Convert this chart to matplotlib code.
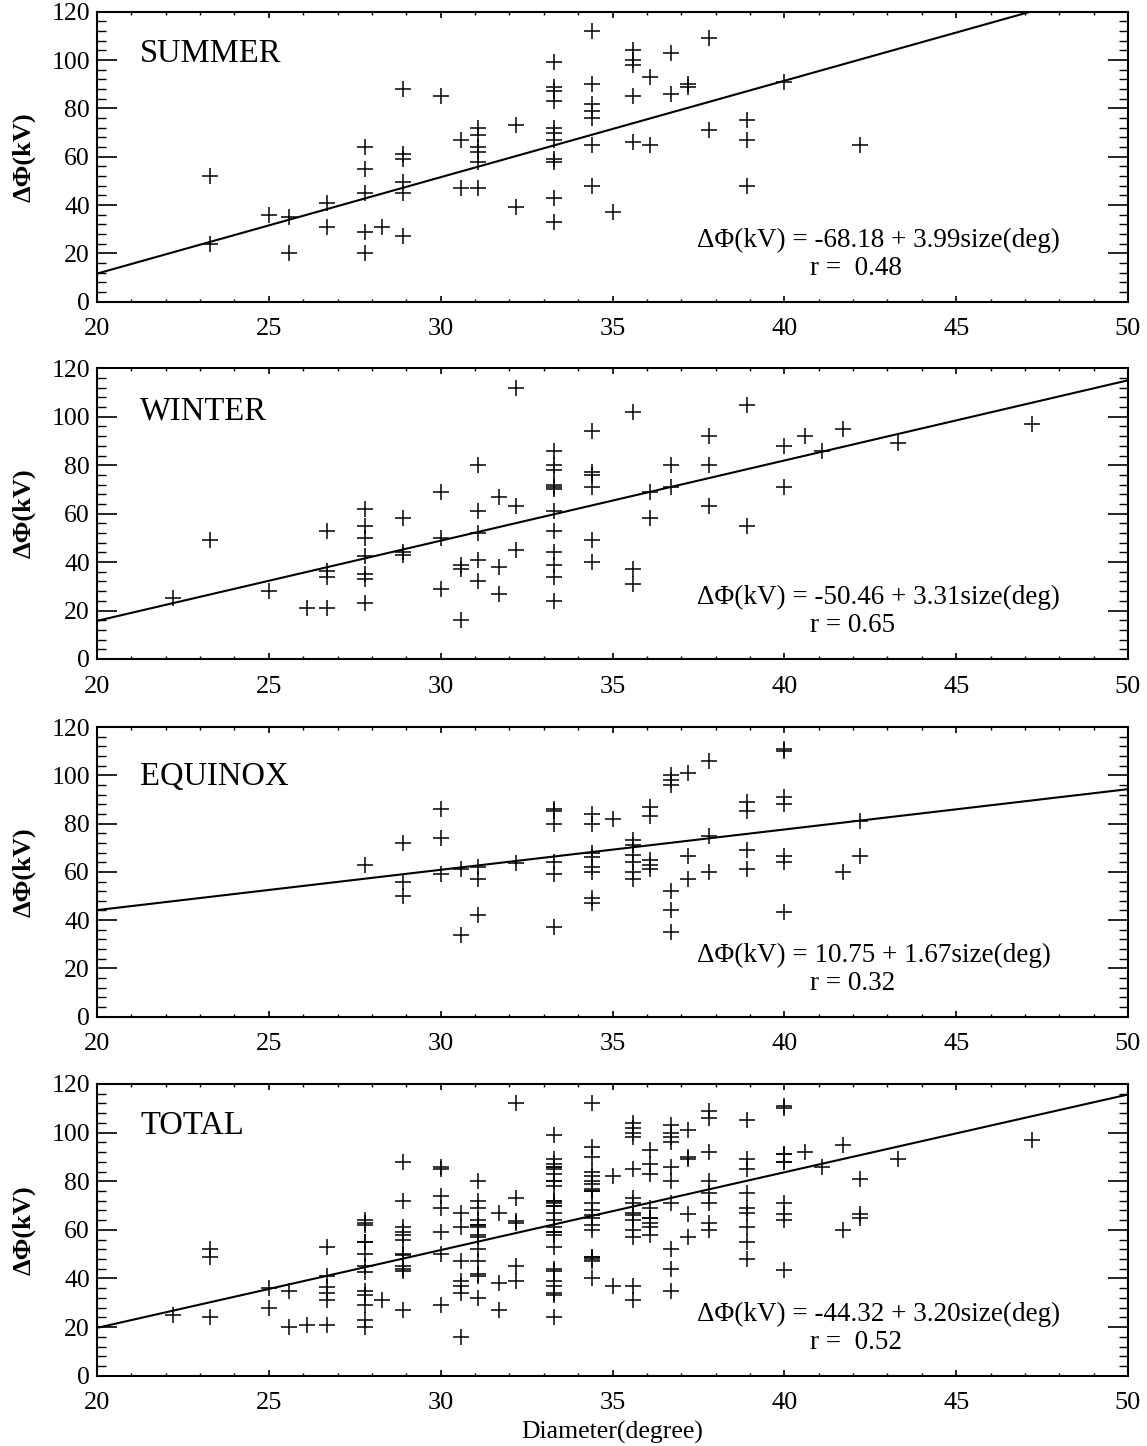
import matplotlib
matplotlib.use('Agg')
import matplotlib.pyplot as plt
from matplotlib.ticker import MultipleLocator
import numpy as np

plt.rcParams['font.family'] = ['Liberation Serif', 'DejaVu Serif']

# ---------------- data ----------------
# Each season: list of distinct diameter columns and the potentials (kV) at each column
summer_size = [23.3, 25.0, 25.6, 26.7, 27.8, 28.3, 28.9, 30.0, 30.6, 31.1, 32.2,
               33.3, 34.4, 35.0, 35.6, 36.1, 36.7, 37.2, 37.8, 38.9, 40.0, 42.2]
summer_dphi = [[52, 24], [36], [35, 20], [41, 31], [64, 55, 45, 29, 20], [31],
               [88, 61, 59, 49.5, 45, 27], [85], [67, 47], [72, 69, 64, 62, 58, 47],
               [73, 39], [99, 89, 87, 83, 72, 70, 67, 59, 58, 43, 33],
               [112, 90, 82, 79, 76, 65, 48], [37], [104, 100, 98, 85, 66], [93, 65],
               [103, 86], [90, 89], [109, 71], [75, 67, 48], [91], [65]]

winter_size = [22.2, 23.3, 25.0, 26.1, 26.7, 27.8, 28.9, 30.0, 30.6, 31.1, 31.7,
               32.2, 33.3, 34.4, 35.6, 36.1, 36.7, 37.8, 38.9, 40.0, 40.6, 41.1,
               41.7, 43.3, 47.2]
winter_dphi = [[25], [49], [28], [21], [53, 36.5, 34, 21], [62, 55, 50, 42.5, 35, 33, 23],
               [58, 44, 43], [69, 50, 29], [39, 37, 16], [80, 61, 52, 41, 32],
               [67, 38, 27], [112, 63, 45],
               [86, 80, 78, 72, 71, 70, 61, 53, 44, 39, 34, 24],
               [94, 77, 76, 71, 49, 40], [102, 37, 31], [69, 58], [80, 71],
               [92, 80, 63], [105, 55], [88, 71], [92], [86], [95], [89], [97]]

equinox_size = [27.8, 28.9, 30.0, 30.6, 31.1, 32.2, 33.3, 34.4, 35.0, 35.6, 36.1,
                36.7, 37.2, 37.8, 38.9, 40.0, 41.7, 42.2]
equinox_dphi = [[63], [72, 56, 50], [86, 74, 59], [61, 34], [62, 57, 42], [63.5],
                [86, 85, 80, 64, 59, 37], [84, 80, 68, 66, 62, 60, 49, 47], [82],
                [73, 71, 67, 64, 60, 57], [87, 83, 65, 63, 61],
                [100, 98, 96, 52, 44, 35], [101, 66.5, 57], [106, 75, 60],
                [89, 85, 69, 61], [111, 110, 91, 88, 66.5, 64, 43.5], [60], [81, 66.5]]

panel_titles = ['SUMMER', 'WINTER', 'EQUINOX', 'TOTAL']
fit_intercept = [-68.18, -50.46, 10.75, -44.32]
fit_slope = [3.99, 3.31, 1.67, 3.20]
fit_r_text = ['r =  0.48', 'r = 0.65', 'r = 0.32', 'r =  0.52']
eq_text = ['ΔΦ(kV) = -68.18 + 3.99size(deg)',
           'ΔΦ(kV) = -50.46 + 3.31size(deg)',
           'ΔΦ(kV) = 10.75 + 1.67size(deg)',
           'ΔΦ(kV) = -44.32 + 3.20size(deg)']
x_ticks = [20, 25, 30, 35, 40, 45, 50]
y_ticks = [0, 20, 40, 60, 80, 100, 120]


def expand(sizes, vals):
    xs, ys = [], []
    for s, v in zip(sizes, vals):
        for y in v:
            xs.append(s)
            ys.append(y)
    return np.array(xs), np.array(ys)


sx, sy = expand(summer_size, summer_dphi)
wx, wy = expand(winter_size, winter_dphi)
ex, ey = expand(equinox_size, equinox_dphi)
tx = np.concatenate([sx, wx, ex])
ty = np.concatenate([sy, wy, ey])
series = [(sx, sy), (wx, wy), (ex, ey), (tx, ty)]

# ---------------- figure ----------------
W, H = 1147, 1446
fig = plt.figure(figsize=(W / 100, H / 100), dpi=100)

left_px, right_px = 97, 1128
tops = [11.7, 368.3, 727, 1084]
bots = [301.7, 659, 1016.7, 1375.7]
title_y = [99, 99, 96, 99.5]

for i in range(4):
    ax = fig.add_axes([left_px / W, 1 - bots[i] / H,
                       (right_px - left_px) / W, (bots[i] - tops[i]) / H])
    x, y = series[i]
    ax.plot(x, y, linestyle='none', marker='+', markersize=11.5,
            markeredgewidth=1.1, color='black')
    xl = np.array([20, 50])
    ax.plot(xl, fit_intercept[i] + fit_slope[i] * xl, color='black', lw=1.5)

    ax.set_xlim(20, 50)
    ax.set_ylim(0, 120)
    ax.set_xticks(x_ticks)
    ax.set_yticks(y_ticks)
    ax.xaxis.set_minor_locator(MultipleLocator(1))
    ax.yaxis.set_minor_locator(MultipleLocator(4))
    ax.tick_params(axis='y', which='major', direction='in', length=14.4, width=1.2,
                   left=True, right=True, labelsize=18.5, pad=5)
    ax.tick_params(axis='y', which='minor', direction='in', length=6.5, width=1.0,
                   left=True, right=True)
    ax.tick_params(axis='x', which='major', direction='in', length=4.5, width=1.2,
                   top=True, bottom=True, labelsize=19, pad=12)
    ax.tick_params(axis='x', which='minor', direction='in', length=2.5, width=1.0,
                   top=True, bottom=True)
    for sp in ax.spines.values():
        sp.set_linewidth(1.5)

    ax.text(21.25, title_y[i], panel_titles[i], fontsize=23.5, ha='left', va='baseline')
    ax.text(37.45, 22.5, eq_text[i], fontsize=19.5, ha='left', va='baseline')
    ax.text(40.75, 11, fit_r_text[i], fontsize=19.5, ha='left', va='baseline')
    ax.text(-0.0708, 0.5, 'ΔΦ(kV)', transform=ax.transAxes, rotation=90,
            ha='center', va='center', fontsize=19, fontweight='bold')

fig.text(612 / W, 1 - 1432 / H, 'Diameter(degree)', ha='center', va='center', fontsize=18.5)

fig.savefig('out.png', dpi=100)
